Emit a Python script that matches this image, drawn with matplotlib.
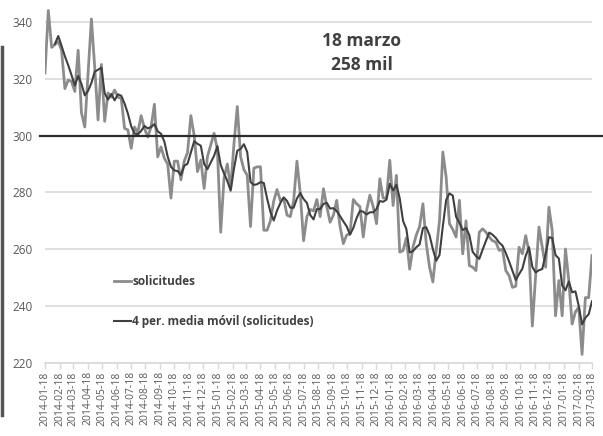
import matplotlib
matplotlib.use("Agg")
import matplotlib.pyplot as plt
import matplotlib.dates as mdates
import numpy as np
import pandas as pd

# ---- data (weekly, thousands) ----
start_date = "2014-01-18"
n_weeks = 166
solicitudes = [
    322, 344, 331, 332, 333, 330, 316.5, 319.5, 319, 315.5,
    330, 308, 303, 322, 341, 324, 305.5, 325, 305, 315,
    313.5, 316, 313.5, 313, 302.5, 302, 295.5, 303, 301, 307,
    302.5, 299.5, 303, 311, 292.5, 296, 292, 290, 278, 291,
    291, 284.4, 291, 294, 307, 300, 287.3, 291.4, 281.4, 292.6,
    296.7, 300.8, 295, 266, 285, 290, 281.4, 297, 310.2, 292.6,
    288, 286, 268, 288.5, 289, 289, 266.7, 266.7, 270, 277,
    281, 277, 278, 272, 271.5, 277, 291, 279.7, 263, 271.5,
    274, 273.5, 277.5, 271.5, 281.3, 275, 269.5, 272, 277.2, 268,
    262, 265, 265.5, 277.5, 276, 275, 264.3, 273.7, 279, 275,
    269, 284.8, 278, 278, 291.3, 275.4, 286, 259, 259.5, 264,
    253, 260.8, 265, 268, 276, 262, 253.7, 248.5, 259.6, 270,
    294.2, 285.4, 269, 267, 264.3, 277.2, 258.4, 270, 254.3, 253.7,
    252.5, 266, 267.2, 266, 264.3, 263, 262.5, 259.6, 260, 252.5,
    250.7, 246.6, 247, 260.7, 258.4, 264.8, 259, 233, 250.7, 267.8,
    260.7, 253.7, 274.8, 266.6, 236.6, 249, 236.6, 260.1, 249, 233.7,
    238, 239.6, 223, 243, 243, 257.8,
]
ma_period = 4
y_ticks = [220, 240, 260, 280, 300, 320, 340]
ref_level = 300
label_series = "solicitudes"
label_ma = "4 per. media móvil (solicitudes)"
annotation = "18 marzo\n258 mil"

dates = pd.date_range(start_date, periods=n_weeks, freq="7D")
s = pd.Series(solicitudes, index=dates)
ma = s.rolling(ma_period).mean()

W, H = 603, 436
fig = plt.figure(figsize=(W / 100, H / 100), dpi=100)
plt.rcParams["font.family"] = ["Open Sans", "DejaVu Sans"]

ax = fig.add_axes([45 / W, (H - 363) / H, 547 / W, (363 - 1.9) / H])

gray = "#8c8c8c"
dark = "#404040"
txt = "#595959"

ax.set_ylim(220, 347)
ax.set_xlim(dates[0], dates[-1])
ax.set_yticks(y_ticks)
ax.yaxis.grid(True, color="#d9d9d9", linewidth=1.2)
ax.set_axisbelow(True)
for sp in ["top", "right", "left"]:
    ax.spines[sp].set_visible(False)
ax.spines["bottom"].set_color("#d9d9d9")
ax.spines["bottom"].set_linewidth(1.2)

ax.plot(dates, s.values, color=gray, linewidth=2.0, label=label_series, zorder=3)
ax.plot(dates, ma.values, color=dark, linewidth=1.5, label=label_ma, zorder=4)

# reference line extends beyond axes
ax.plot([-0.01, 1.03], [ref_level, ref_level], color="#2b2b2b", linewidth=1.6,
        transform=ax.get_yaxis_transform(), clip_on=False, zorder=5)

ax.xaxis.set_major_locator(mdates.MonthLocator(bymonthday=18))
ax.xaxis.set_major_formatter(mdates.DateFormatter("%Y-%m-%d"))
plt.setp(ax.get_xticklabels(), rotation=90, ha="center", va="top")
ax.tick_params(axis="x", colors="#d9d9d9", length=4, width=1, labelcolor=txt,
               labelsize=7.5, pad=2)
ax.tick_params(axis="y", length=0, labelcolor=txt, labelsize=8.5, pad=9)

leg = ax.legend(loc="upper left", bbox_to_anchor=(114 / W, 1 - 275 / H),
                bbox_transform=fig.transFigure, frameon=False, fontsize=8.5,
                handlelength=1.4, handletextpad=0.15, labelspacing=2.3,
                borderpad=0, borderaxespad=0)
for t in leg.get_texts():
    t.set_color(dark)
    t.set_fontweight("bold")

fig.text(362 / W, 1 - 53 / H, annotation, ha="center", va="center",
         fontsize=12.5, fontweight="bold", color=dark, linespacing=1.45)

# left dark edge bar
fig.add_artist(plt.Line2D([1.5 / W, 1.5 / W], [1 - 47 / H, 1 - 415 / H],
                          transform=fig.transFigure, color="#555555", linewidth=2.5))

fig.savefig("out.png", dpi=100)
